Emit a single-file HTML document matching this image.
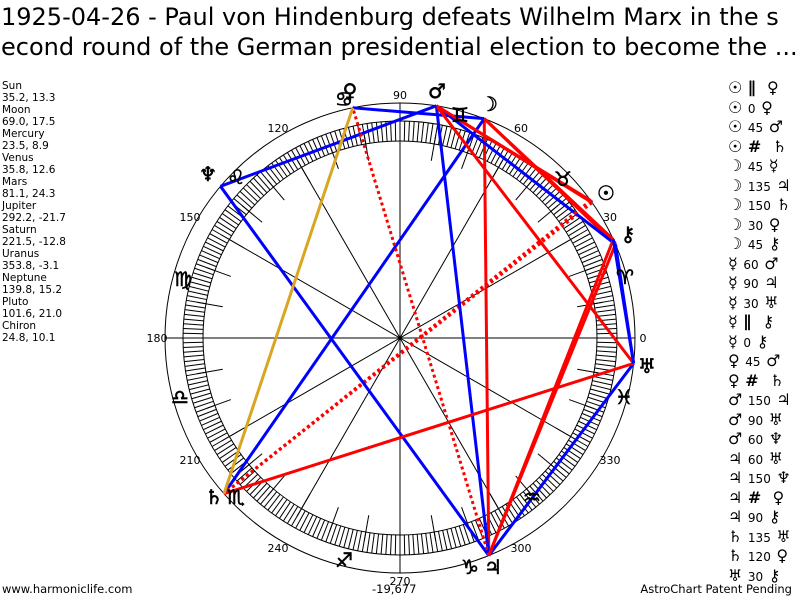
<!DOCTYPE html>
<html><head><meta charset="utf-8"><style>
body{margin:0;background:#fff;width:800px;height:600px;overflow:hidden;position:relative;font-family:"Liberation Sans","DejaVu Sans",sans-serif}
.t{position:absolute;left:1px;top:2px;font-family:"DejaVu Sans",sans-serif;font-size:24px;line-height:30px;white-space:nowrap;color:#000}
.l{position:absolute;left:2px;top:80px;font-family:"DejaVu Sans",sans-serif;font-size:10.5px;line-height:12px}
.f{position:absolute;top:582px;font-family:"DejaVu Sans",sans-serif;font-size:11.5px}
svg{position:absolute;left:0;top:0}
.r{position:absolute;left:728px;height:19.5px;line-height:19.5px;font-family:"DejaVu Sans",sans-serif;font-size:16px;white-space:pre;font-weight:bold}
.r span{font-size:12px;font-weight:normal}
</style></head><body>
<div class="t">1925-04-26 - Paul von Hindenburg defeats Wilhelm Marx in the s<br>econd round of the German presidential election to become the ...</div>
<div class="l">Sun<br>35.2, 13.3<br>Moon<br>69.0, 17.5<br>Mercury<br>23.5, 8.9<br>Venus<br>35.8, 12.6<br>Mars<br>81.1, 24.3<br>Jupiter<br>292.2, -21.7<br>Saturn<br>221.5, -12.8<br>Uranus<br>353.8, -3.1<br>Neptune<br>139.8, 15.2<br>Pluto<br>101.6, 21.0<br>Chiron<br>24.8, 10.1</div>
<div class="f" style="left:2px">www.harmoniclife.com</div>
<div class="f" style="left:372px">-19,677</div>
<div class="f" style="right:8px">AstroChart Patent Pending</div>
<svg width="800" height="600" id="s">
<g id="g" stroke="#000" stroke-width="1" fill="none">
<circle cx="400" cy="338" r="235"/>
<circle cx="400" cy="338" r="217"/>
<circle cx="400" cy="338" r="197"/>
</g>
<g id="a" fill="none" stroke-width="3"></g>
<g font-family="DejaVu Sans,sans-serif" font-size="11" text-anchor="middle" fill="#000">
<text x="643" y="342">0</text><text x="610" y="221">30</text><text x="521" y="132">60</text><text x="400" y="99">90</text><text x="278" y="132">120</text><text x="190" y="221">150</text><text x="157" y="342">180</text><text x="190" y="464">210</text><text x="278" y="552">240</text><text x="400" y="585">270</text><text x="521" y="552">300</text><text x="610" y="464">330</text>
</g>
<g font-family="DejaVu Sans,sans-serif" font-size="20" text-anchor="middle" fill="#000" stroke="#000" stroke-width="0.6">
<text x="625" y="284">♈</text><text x="563" y="186">♉</text><text x="460" y="122">♊</text><text x="344" y="106">♋</text><text x="236" y="184">♌</text><text x="183" y="286">♍</text><text x="180" y="404">♎</text><text x="236" y="504">♏</text><text x="344" y="567">♐</text><text x="470" y="574">♑</text><text x="532" y="504">♒</text><text x="624" y="404">♓</text>
</g>
<g font-family="DejaVu Sans,sans-serif" font-size="20" text-anchor="middle" fill="#000" stroke="#000" stroke-width="0.6">
<text x="606" y="200">☉</text><text x="489" y="111">☽</text><text x="437" y="98">♂</text><text x="493" y="574">♃</text><text x="214" y="504">♄</text><text x="647" y="373">♅</text><text x="208" y="181">♆</text><text x="350" y="98">♀</text><text x="628" y="241">⚷</text>
</g>
</svg>
<div class="r" style="top:78px">☉ ∥  ♀</div>
<div class="r" style="top:97.5px">☉ <span>0</span> ♀</div>
<div class="r" style="top:117px">☉ <span>45</span> ♂</div>
<div class="r" style="top:136.5px">☉ #  ♄</div>
<div class="r" style="top:156px">☽ <span>45</span> ☿</div>
<div class="r" style="top:175.5px">☽ <span>135</span> ♃</div>
<div class="r" style="top:195px">☽ <span>150</span> ♄</div>
<div class="r" style="top:214.5px">☽ <span>30</span> ♀</div>
<div class="r" style="top:234px">☽ <span>45</span> ⚷</div>
<div class="r" style="top:253.5px">☿ <span>60</span> ♂</div>
<div class="r" style="top:273px">☿ <span>90</span> ♃</div>
<div class="r" style="top:292.5px">☿ <span>30</span> ♅</div>
<div class="r" style="top:312px">☿ ∥  ⚷</div>
<div class="r" style="top:331.5px">☿ <span>0</span> ⚷</div>
<div class="r" style="top:351px">♀ <span>45</span> ♂</div>
<div class="r" style="top:370.5px">♀ #  ♄</div>
<div class="r" style="top:390px">♂ <span>150</span> ♃</div>
<div class="r" style="top:409.5px">♂ <span>90</span> ♅</div>
<div class="r" style="top:429px">♂ <span>60</span> ♆</div>
<div class="r" style="top:448.5px">♃ <span>60</span> ♅</div>
<div class="r" style="top:468px">♃ <span>150</span> ♆</div>
<div class="r" style="top:487.5px">♃ #  ♀</div>
<div class="r" style="top:507px">♃ <span>90</span> ⚷</div>
<div class="r" style="top:526.5px">♄ <span>135</span> ♅</div>
<div class="r" style="top:546px">♄ <span>120</span> ♀</div>
<div class="r" style="top:565.5px">♅ <span>30</span> ⚷</div>
<script>
var NS="http://www.w3.org/2000/svg",g=document.getElementById('g'),a=document.getElementById('a');
function P(d,r){var t=d*Math.PI/180;return [400+r*Math.cos(t),338-r*Math.sin(t)];}
function L(p,q,par,st){var e=document.createElementNS(NS,'line');e.setAttribute('x1',p[0]);e.setAttribute('y1',p[1]);e.setAttribute('x2',q[0]);e.setAttribute('y2',q[1]);if(st)for(var k in st)e.setAttribute(k,st[k]);par.appendChild(e);}
for(var d=0;d<360;d+=1.25)L(P(d,197),P(d,217),g);
for(var d=0;d<360;d+=10)L(P(d,180),P(d,206),g);
for(var d=0;d<180;d+=30){if(d%90==0)L(P(d,235),P(d+180,235),g);else L(P(d,197),P(d+180,197),g);}
var pl={Su:35.2,Mo:69,Me:23.5,Ve:35.8,Ma:81.1,Ju:292.2,Sa:221.5,Ur:353.8,Ne:139.8,Pl:101.6,Ch:24.8};
var B='#0000ff',R='#ff0000',G='#daa520';
var asp=[['Su','Ve',R,1],['Su','Ma',R],['Su','Sa',R,1],['Mo','Me',R],['Mo','Ju',R],['Mo','Sa',B],['Mo','Pl',B],['Mo','Ch',R],['Me','Ma',B],['Me','Ju',R],['Me','Ur',B],['Me','Ch',R,1],['Ve','Ma',R],['Ve','Sa',R,1],['Ma','Ju',B],['Ma','Ur',R],['Ma','Ne',B],['Ju','Ur',B],['Ju','Ne',B],['Ju','Pl',R,1],['Ju','Ch',R],['Sa','Ur',R],['Sa','Pl',G],['Ur','Ch',B]];
asp.forEach(function(x){var st={stroke:x[2]};if(x[3])st['stroke-dasharray']='3 3';L(P(pl[x[0]],235),P(pl[x[1]],235),a,st);});
</script>
</body></html>
